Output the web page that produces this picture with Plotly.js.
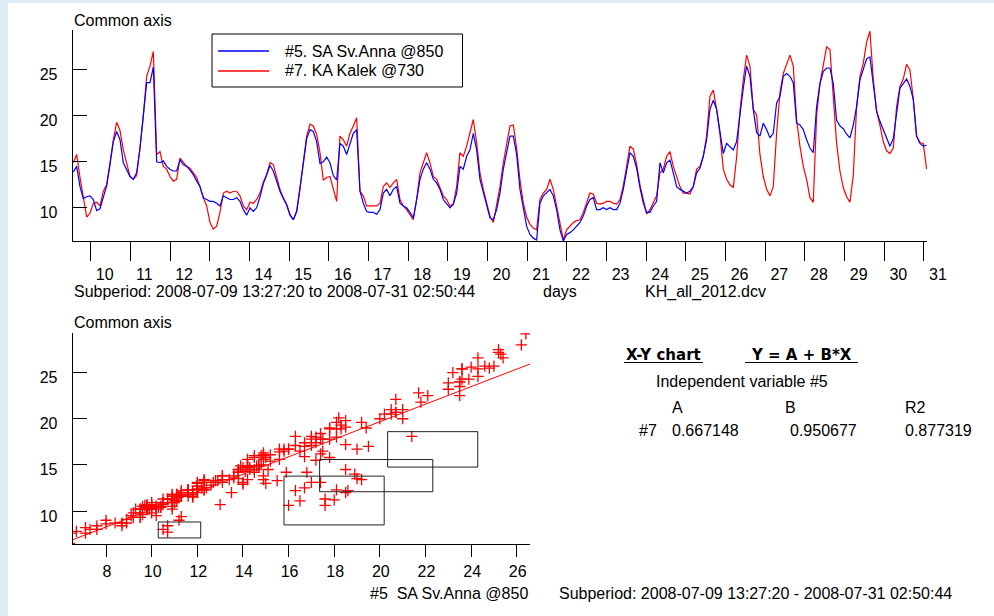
<!DOCTYPE html>
<html><head><meta charset="utf-8">
<script src="https://cdn.plot.ly/plotly-3.0.1.min.js"></script>
<style>html,body{margin:0;padding:0;background:#fff}#chart{width:994px;height:616px}</style>
</head><body><div id="chart"></div>
<script>
// ---------- data ----------
const startDay = 9.562;      // 2008-07-09 13:27:20 as day-of-month
const stepDays = 0.0840;     // sampling step (about 2 h)
const seriesNames = ['#5. SA Sv.Anna @850', '#7. KA Kalek @730'];

const blue = [
13.9,14.5,12.3,11.0,11.2,11.3,10.9,9.7,9.9,11.3,12.4,14.7,17.2,18.3,17.4,14.9,14.2,13.4,13.1,13.8,
16.5,20.0,23.6,23.6,25.3,15.0,14.9,15.1,14.5,14.2,14.0,14.0,15.2,14.7,14.5,14.1,13.6,12.9,12.3,11.1,
10.9,10.7,10.7,10.5,10.2,11.3,11.1,10.9,10.9,11.1,10.7,9.8,9.2,10.0,9.6,10.0,11.2,12.6,13.6,14.6,
14.0,12.8,11.8,11.0,10.3,9.2,8.7,9.6,12.0,14.8,17.5,18.5,18.3,17.2,14.8,15.0,15.5,14.9,13.5,13.0,
17.0,16.7,15.8,17.0,18.1,18.5,11.8,10.5,9.6,9.5,9.5,9.3,9.8,11.6,12.0,11.3,12.0,12.3,10.5,10.2,
10.0,9.5,8.9,10.9,13.1,14.2,14.9,14.2,13.1,12.7,12.0,10.9,10.5,10.0,10.4,11.6,14.5,14.2,15.6,16.3,
18.1,16.3,13.1,11.6,10.4,8.9,8.7,9.8,11.6,14.2,16.0,17.8,17.8,15.8,12.0,9.8,8.0,7.1,6.7,6.5,
10.5,11.3,11.6,12.0,11.3,9.8,7.6,6.4,7.1,7.3,7.6,8.0,8.4,9.1,10.2,10.9,11.1,9.8,9.8,10.0,
9.8,10.0,9.8,9.8,10.5,12.0,13.8,16.0,15.6,14.3,12.2,10.5,9.5,
9.5,10.2,10.7,14.9,13.8,14.9,15.2,13.8,12.3,12.0,11.8,11.6,11.8,12.3,13.8,14.3,15.6,17.4,20.7,21.7,
20.7,18.1,15.9,17.0,16.7,16.3,17.2,20.2,23.0,25.4,24.3,20.7,18.2,17.8,19.2,18.5,17.6,18.1,21.4,22.1,
24.3,24.6,24.3,23.6,19.2,19.0,18.5,17.4,16.5,16.0,21.0,23.5,24.8,25.2,25.2,23.5,19.5,18.9,18.6,18.0,
17.6,19.0,21.0,23.9,25.0,26.2,26.4,23.5,20.5,19.4,18.5,17.4,16.7,17.5,20.5,23.0,23.5,24.0,23.2,21.8,
17.8,17.0,16.7,16.8
];
const red = [
14.9,15.8,13.3,10.9,9.0,9.4,10.5,10.6,10.2,11.8,12.5,14.9,17.4,19.3,18.4,16.3,14.9,13.4,13.1,13.5,
16.5,20.0,24.3,25.4,27.0,15.8,16.1,14.5,14.2,13.4,12.9,13.1,15.4,14.9,14.5,14.3,13.8,13.3,12.3,11.1,
10.2,8.4,7.7,8.0,9.5,11.6,11.8,11.6,11.8,11.8,11.3,10.2,9.8,10.6,10.5,10.9,11.6,12.8,13.6,14.9,
14.7,13.3,12.0,11.1,10.4,9.3,8.7,9.6,12.0,15.0,17.8,19.1,18.9,18.0,16.0,13.0,13.3,13.4,12.0,10.7,
17.8,17.4,16.7,18.1,18.9,19.8,11.8,11.3,10.2,10.2,10.2,10.2,10.5,12.3,12.7,12.2,12.7,13.1,10.9,10.2,
9.8,9.3,8.7,10.9,13.8,14.9,16.0,14.9,13.4,13.1,12.3,11.3,10.9,10.2,10.4,12.3,16.0,15.6,16.7,18.1,
19.6,17.1,13.8,12.0,10.5,9.1,8.4,10.2,12.3,14.9,16.7,18.9,19.0,16.5,13.0,10.5,9.0,8.2,7.8,7.6,
10.9,11.6,12.0,13.1,12.0,10.2,8.0,6.5,7.6,8.0,8.4,8.6,8.7,9.5,10.5,11.6,11.5,10.5,10.4,10.5,
10.7,10.7,10.5,10.4,10.9,12.4,14.5,16.7,16.4,14.7,12.5,10.7,9.3,
9.8,10.5,11.3,13.8,14.2,15.6,16.1,14.5,13.4,12.3,11.6,11.6,11.5,12.3,14.2,14.5,15.6,17.8,22.1,22.8,
20.7,18.0,14.2,13.1,12.5,12.2,15.5,20.5,23.9,26.6,25.4,20.7,20.1,15.8,13.4,12.0,11.3,12.3,18.1,22.5,
24.6,25.7,26.6,25.4,19.6,16.7,14.5,13.1,11.1,10.6,20.0,23.5,25.5,27.5,27.2,22.5,17.0,14.0,12.2,11.2,
10.6,13.5,21.0,24.3,25.7,28.0,29.2,24.0,20.5,19.0,17.2,16.2,15.9,16.5,21.0,23.2,24.0,25.6,25.0,21.8,
17.8,17.1,17.0,14.2
];

const dayTicks = [10,11,12,13,14,15,16,17,18,19,20,21,22,23,24,25,26,27,28,29,30,31];
const dayTickLabels = dayTicks.map(String);
const valueTicks = [10,15,20,25];
const scatterXTicks = [8,10,12,14,16,18,20,22,24,26];

const regA = 0.667148, regB = 0.950677, regR2 = 0.877319;
const tableLabels = {A: '0.667148', B: '0.950677', R2: '0.877319'};
// highlighted regions in the X-Y chart: [x0, x1, y0, y1]
const boxes = [[10.29,12.15,7.08,8.81],[15.80,20.19,8.49,13.78],[17.36,22.32,12.09,15.58],[20.34,24.29,14.76,18.60]];

const timeRange = [9.546, 31.076];
const valueRange = [6.39, 29.33];
const scatterXRange = [6.54, 26.58];

// ---------- layout helpers ----------
const W = 994, H = 616;
const PX = v => v / W;
const PY = v => 1 - v / H;
const FONT = 'Liberation Sans, Arial, sans-serif';
const RED = '#ff0000', BLUE = '#0000ff';

const traces = [
  {type:'scatter', mode:'lines', x0:startDay, dx:stepDays, y:red, name:seriesNames[1],
   line:{color:RED, width:1.2}, xaxis:'x', yaxis:'y', hoverinfo:'skip'},
  {type:'scatter', mode:'lines', x0:startDay, dx:stepDays, y:blue, name:seriesNames[0],
   line:{color:BLUE, width:1.2}, xaxis:'x', yaxis:'y', hoverinfo:'skip'},
  {type:'scatter', mode:'lines', x:scatterXRange, y:scatterXRange.map(v => regA + regB * v),
   line:{color:RED, width:1}, xaxis:'x2', yaxis:'y2', hoverinfo:'skip'},
  {type:'scatter', mode:'markers', x:blue, y:red,
   marker:{symbol:'cross-thin', size:8, color:RED, line:{color:RED, width:1.3}},
   xaxis:'x2', yaxis:'y2', hoverinfo:'skip'}
];

const axisCommon = {showline:true, linecolor:'#000', linewidth:1, showgrid:false, zeroline:false,
  tickcolor:'#000', tickwidth:1, tickfont:{family:FONT, size:16, color:'#000'}, tickmode:'array', fixedrange:true};

const ann = (text, x, y, xanchor, extra) => Object.assign({text, x:PX(x), y:PY(y), xref:'paper', yref:'paper',
  xanchor, yanchor:'middle', showarrow:false, font:{family:FONT, size:16, color:'#000'}}, extra || {});

const annotations = [
  ann('Common axis', 72, 20.7, 'left'),
  ann('Subperiod: 2008-07-09 13:27:20 to 2008-07-31 02:50:44', 72, 291.7, 'left'),
  ann('days', 560, 291.7, 'center'),
  ann('KH_all_2012.dcv', 643.3, 291.7, 'left'),
  ann(seriesNames[0], 283, 51.5, 'left'),
  ann(seriesNames[1], 283, 70.7, 'left'),
  ann('Common axis', 72, 322.7, 'left'),
  ann('#5  SA Sv.Anna @850', 530, 593.3, 'right'),
  ann('<b>X-Y chart</b>', 663.5, 355, 'center', {font:{family:'DejaVu Sans, sans-serif', size:15, color:'#000'}}),
  ann('<b>Y = A + B*X</b>', 801.7, 355, 'center', {font:{family:'DejaVu Sans, sans-serif', size:15, color:'#000'}}),
  ann('Independent variable #5', 741.7, 381.7, 'center'),
  ann('A', 677, 407, 'center'),
  ann('B', 790, 407, 'center'),
  ann('R2', 903, 407, 'left'),
  ann('#7', 636.7, 430.7, 'left'),
  ann(tableLabels.A, 670, 430.7, 'left'),
  ann(tableLabels.B, 788.3, 430.7, 'left'),
  ann(tableLabels.R2, 903.3, 430.7, 'left'),
  ann('Subperiod: 2008-07-09 13:27:20 - 2008-07-31 02:50:44', 557.3, 593.3, 'left')
];

const shapes = [
  {type:'rect', xref:'paper', yref:'paper', x0:PX(8), x1:1, y0:0, y1:PY(3), fillcolor:'#ffffff', line:{width:0}, layer:'below'},
  {type:'rect', xref:'paper', yref:'paper', x0:PX(212), x1:PX(462.5), y0:PY(87), y1:PY(34), line:{color:'#000', width:1}},
  {type:'line', xref:'paper', yref:'paper', x0:PX(218), x1:PX(269), y0:PY(51), y1:PY(51), line:{color:BLUE, width:1.3}},
  {type:'line', xref:'paper', yref:'paper', x0:PX(218), x1:PX(269), y0:PY(71), y1:PY(71), line:{color:RED, width:1.3}},
  {type:'line', xref:'paper', yref:'paper', x0:PX(624), x1:PX(703), y0:PY(362.5), y1:PY(362.5), line:{color:'#000', width:1.2}},
  {type:'line', xref:'paper', yref:'paper', x0:PX(745), x1:PX(858), y0:PY(362.5), y1:PY(362.5), line:{color:'#000', width:1.2}}
].concat(boxes.map(b => ({type:'rect', xref:'x2', yref:'y2', x0:b[0], x1:b[1], y0:b[2], y1:b[3], line:{color:'#222', width:1}})));

const layout = {
  width:W, height:H, margin:{l:0, r:0, t:0, b:0},
  paper_bgcolor:'#deeaf6', plot_bgcolor:'rgba(0,0,0,0)',
  showlegend:false, font:{family:FONT, size:16, color:'#000'},
  xaxis: Object.assign({}, axisCommon, {domain:[PX(72.7), PX(927)], range:timeRange, anchor:'y',
    tickvals:dayTicks, ticktext:dayTickLabels, ticks:'outside', ticklen:19, ticklabelshift:14}),
  yaxis: Object.assign({}, axisCommon, {domain:[PY(241), PY(30)], range:valueRange, anchor:'x',
    tickvals:valueTicks, ticktext:valueTicks.map(String), ticks:'inside', ticklen:14, ticklabelshift:5, ticklabelstandoff:11}),
  xaxis2: Object.assign({}, axisCommon, {domain:[PX(72.7), PX(530)], range:scatterXRange, anchor:'y2',
    tickvals:scatterXTicks, ticktext:scatterXTicks.map(String), ticks:'outside', ticklen:12, ticklabelshift:1}),
  yaxis2: Object.assign({}, axisCommon, {domain:[PY(544.3), PY(332.7)], range:valueRange, anchor:'x2',
    tickvals:valueTicks, ticktext:valueTicks.map(String), ticks:'inside', ticklen:14, ticklabelshift:5, ticklabelstandoff:11}),
  annotations, shapes
};

Plotly.newPlot('chart', traces, layout, {displayModeBar:false, staticPlot:true});
</script></body></html>
